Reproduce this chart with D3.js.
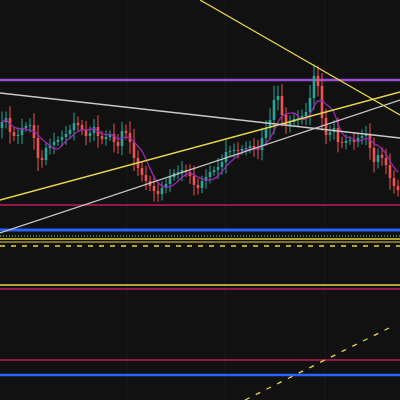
<!DOCTYPE html>
<html lang="en">
<head>
<meta charset="UTF-8">
<title>Candles</title>
<script src="https://d3js.org/d3.v7.min.js"></script>
<style>body{margin:0;background:#111}</style>
</head>
<body>
<div id="chart"></div>
<script>
// closing prices
const closes = [112.8,113.2,111.8,111.4,111.5,112.2,112.4,112.5,111.2,109.2,
  109.0,110.2,110.5,110.8,111.0,111.3,111.6,112.0,112.7,112.5,
  112.0,111.4,111.7,112.3,111.4,111.1,111.3,111.6,110.8,110.4,
  111.9,111.7,110.8,109.2,108.2,107.5,106.9,106.4,105.9,105.6,
  106.2,106.6,107.3,107.7,107.8,108.0,107.8,107.4,106.5,106.2,
  106.9,107.3,107.8,108.0,108.3,108.8,109.8,109.9,110.0,109.9,
  110.1,110.2,110.4,110.1,110.0,111.2,112.2,113.0,115.0,115.4,
  113.5,112.4,112.8,113.1,113.2,113.4,113.8,115.2,117.4,116.4,
  113.2,111.5,111.8,112.2,110.8,110.7,110.9,111.0,110.8,111.2,
  111.4,111.5,110.2,108.8,109.5,109.2,108.5,107.2,106.4,106.0];
const wicks = [0.8,0.5,0.9,0.4,0.6,0.7,0.3,0.5,0.9,1.0,0.6,0.4,0.5,0.7,0.3,0.5,0.6,0.4,0.8,0.5,
  0.4,0.7,0.5,0.6,0.9,0.4,0.5,0.3,0.8,0.6,0.7,0.5,0.9,1.0,0.6,0.5,0.7,0.4,0.8,0.6,
  0.5,0.4,0.6,0.3,0.5,0.7,0.4,0.6,0.8,0.5,0.4,0.6,0.5,0.3,0.7,0.6,0.9,0.4,0.5,0.6,
  0.3,0.5,0.4,0.6,0.7,0.8,0.6,0.9,1.1,0.8,0.9,0.6,0.5,0.4,0.6,0.5,0.7,1.0,0.9,0.8,
  1.0,0.7,0.5,0.6,0.8,0.4,0.5,0.3,0.6,0.4,0.5,0.7,0.9,0.8,0.5,0.6,0.7,0.9,0.6,0.5];
const firstOpen = 112.2;

// horizontal levels: price, colour, width, dash
const levelPrices = [117.0, 104.5, 102.0, 101.4, 101.1, 100.8, 100.4, 96.5, 96.1, 89.0, 87.5];
const levelColors = ["#9b4fd8","#c2185b","#2962ff","#4caf50","#e8d33f","#e8d33f","#e8d33f","#e8d33f","#c2185b","#c2185b","#2962ff"];
const levelWidths = [2.5, 1.3, 3, 1.5, 1.5, 1, 1.5, 1.5, 1.5, 1.3, 2.5];
const levelDashes = [null, null, null, "1,2", null, null, "5,6", null, null, null, null];

// trend lines: [index1, price1, index2, price2]
const trendLines = [[49.5,125.0,99.5,113.5],[-0.5,105.0,99.5,115.8],[-0.5,115.7,99.5,111.2],[-0.5,101.7,99.5,115.0],[60.75,85.0,98.25,92.5]];
const trendColors = ["#e6d74a","#e6d74a","#c8c8c8","#c8c8c8","#e6d74a"];
const trendDashes = [null, null, null, null, "5,7"];

const gridIdx = [31.25, 55.75, 80.75];

const W = 400, H = 400;
const svg = d3.select("#chart").append("svg").attr("width", W).attr("height", H)
  .style("background", "#111");

const x = d3.scaleLinear().domain([-0.5, 99.5]).range([0, W]);
const y = d3.scaleLinear().domain([85, 125]).range([H, 0]);

svg.selectAll(".grid").data(gridIdx).join("line")
  .attr("x1", d => x(d)).attr("x2", d => x(d)).attr("y1", 0).attr("y2", H)
  .attr("stroke", "#191919");

const candles = closes.map((c, i) => {
  const o = i === 0 ? firstOpen : closes[i - 1];
  return {i, o, c, h: Math.max(o, c) + wicks[i] * 1.3, l: Math.min(o, c) - wicks[i] * 1.3};
});

svg.selectAll(".level").data(levelPrices).join("line")
  .attr("x1", 0).attr("x2", W).attr("y1", d => y(d)).attr("y2", d => y(d))
  .attr("stroke", (d, i) => levelColors[i]).attr("stroke-width", (d, i) => levelWidths[i])
  .attr("stroke-dasharray", (d, i) => levelDashes[i]);

svg.selectAll(".wick").data(candles).join("line")
  .attr("x1", d => x(d.i)).attr("x2", d => x(d.i))
  .attr("y1", d => y(d.h)).attr("y2", d => y(d.l))
  .attr("stroke", d => d.c >= d.o ? "#26a69a" : "#ef5350");
svg.selectAll(".body").data(candles).join("rect")
  .attr("x", d => x(d.i) - 1.3).attr("width", 2.6)
  .attr("y", d => y(Math.max(d.o, d.c)))
  .attr("height", d => Math.max(1, Math.abs(y(d.o) - y(d.c))))
  .attr("fill", d => d.c >= d.o ? "#26a69a" : "#ef5350");

// moving average
const ma = candles.map((d, i) => {
  const s = closes.slice(Math.max(0, i - 5), i + 1);
  return {i, v: d3.mean(s)};
});
svg.append("path").datum(ma)
  .attr("d", d3.line().x(d => x(d.i)).y(d => y(d.v)).curve(d3.curveMonotoneX))
  .attr("fill", "none").attr("stroke", "#9c27b0").attr("stroke-width", 1.3);

svg.selectAll(".trend").data(trendLines).join("line")
  .attr("x1", d => x(d[0])).attr("y1", d => y(d[1]))
  .attr("x2", d => x(d[2])).attr("y2", d => y(d[3]))
  .attr("stroke", (d, i) => trendColors[i]).attr("stroke-width", 1.3)
  .attr("stroke-dasharray", (d, i) => trendDashes[i]);
</script>
</body>
</html>
